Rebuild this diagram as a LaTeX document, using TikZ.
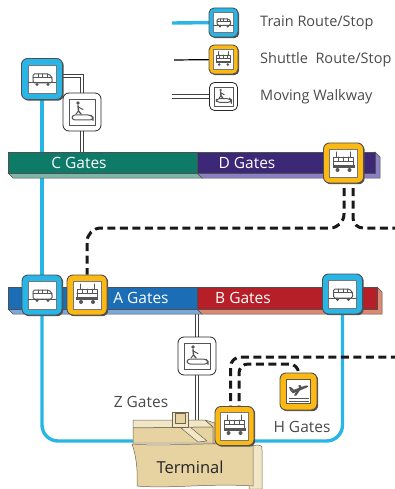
\documentclass[tikz,border=0pt]{standalone}
\usepackage{fontspec}
\setmainfont{Open Sans}
\usetikzlibrary{shadows,calc}

\definecolor{trainblue}{HTML}{29B5E6}
\definecolor{shuttleyellow}{HTML}{FDB913}
\definecolor{cgreen}{HTML}{0E7A68}
\definecolor{cgreenlt}{HTML}{7DB5A8}
\definecolor{dpurple}{HTML}{3D2878}
\definecolor{dpurplelt}{HTML}{8B80C3}
\definecolor{ablue}{HTML}{1B6EB5}
\definecolor{abluelt}{HTML}{7DA7D9}
\definecolor{bred}{HTML}{B71F28}
\definecolor{bredlt}{HTML}{D98A70}
\definecolor{edge}{HTML}{505050}
\definecolor{glyph}{HTML}{555555}
\definecolor{tan}{HTML}{E6D3A1}
\definecolor{tanlt}{HTML}{F1E6C6}
\definecolor{tanedge}{HTML}{6E6450}
\definecolor{labelgray}{HTML}{4A4A4A}

\pgfdeclarelayer{routes}
\pgfsetlayers{routes,main}

\tikzset{
  stopbox/.style={rectangle, rounded corners=6pt, minimum size=40pt, inner sep=0pt,
    fill=#1, draw=edge, line width=0.9pt,
    drop shadow={shadow xshift=1.2pt, shadow yshift=-1.2pt, fill=edge, opacity=1}},
  walkbox/.style={rectangle, rounded corners=6pt, minimum size=38pt, inner sep=0pt,
    fill=white, draw=black!85, line width=0.8pt},
  bar/.style={rectangle, inner sep=0pt, minimum height=21pt, draw=edge, line width=0.5pt, anchor=north west},
  barface/.style={draw=edge, line width=0.5pt},
  gatelabel/.style={text=white, font=\fontsize{15.5}{18}\selectfont},
  graylabel/.style={text=labelgray, font=\fontsize{15.5}{18}\selectfont},
  legendlabel/.style={text=labelgray, font=\fontsize{14.5}{17}\selectfont, anchor=west, inner xsep=0pt},
  trainline/.style={draw=trainblue, line width=3.4pt},
  shuttleroute/.style={draw=black!90, line width=3pt, dash pattern=on 8pt off 4.5pt},
  walkline/.style={line width=1pt, draw=black!75, double=white, double distance=2.8pt},
  glyphpen/.style={draw=glyph, line width=1pt, line cap=round, line join=round},
  tanpart/.style={draw=tanedge, line width=0.5pt, line join=round},
  pics/trainglyph/.style={code={
    \filldraw[fill=white, draw=glyph!80, line width=.6pt] (-14,-14) rectangle (14,14);
    \draw[glyphpen, rounded corners=1.5pt] (-9,4) -- (-9,-5) -- (7,-5) -- (10,-1.5) -- (10,4) -- cycle;
    \draw[glyphpen] (-9,-1.5) -- (10,-1.5) (-4,-5) -- (-4,-1.5) (0.5,-5) -- (0.5,-1.5) (5,-5) -- (5,-1.5);
    \draw[glyphpen] (-14,4) -- (14,4);
    \fill[glyph] (-5,5.5) circle (1.6pt) (6,5.5) circle (1.6pt);
  }},
  pics/shuttleglyph/.style={code={
    \filldraw[fill=white, draw=glyph!80, line width=.6pt] (-14,-14) rectangle (14,14);
    \draw[glyphpen] (-7,-11) -- (-7,-6) (7,-11) -- (7,-6);
    \draw[glyphpen] (-10,-6) rectangle (10,3);
    \draw[glyphpen] (-10,-2) -- (10,-2) (-5,-6) -- (-5,-2) (0,-6) -- (0,-2) (5,-6) -- (5,-2);
    \fill[glyph] (-11,2) rectangle (11,4.5);
    \fill[glyph] (-6,7) circle (2pt) (6,7) circle (2pt);
  }},
  pics/walkglyph/.style={code={
    \filldraw[fill=white, draw=glyph, line width=.6pt] (-13,-13) rectangle (13,13);
    \fill[glyph] (-4,-9) circle (1.8pt);
    \draw[glyphpen, line width=1.4pt] (-4,-6.5) -- (-3.5,-1) -- (-1,2);
    \draw[glyphpen] (-3.8,-5) -- (1,-2.5) (-3.5,-1) -- (-6,2);
    \draw[glyphpen, rounded corners=3pt] (-10,8) -- (-10,3) -- (9,3) -- (11,5.5) -- (11,8) -- cycle;
  }},
  pics/planeglyph/.style={code={
    \filldraw[fill=white, draw=glyph, line width=.6pt] (-12,-12) rectangle (12,12);
    % fuselage, nose to the upper right
    \fill[glyph] (-8,-0.5) -- (6.5,-5.8) .. controls (9.5,-6.8) and (10.5,-4.8) .. (8,-3.8)
      -- (-5.5,1.8) -- cycle;
    % tail fin
    \fill[glyph] (-8,-0.5) -- (-9.5,-4.5) -- (-7.6,-4.5) -- (-4.5,-1.7) -- cycle;
    % near wing
    \fill[glyph] (-1.5,-2) -- (-4.5,4) -- (-2.2,4) -- (3,-3.4) -- cycle;
    % far wing
    \fill[glyph] (0.5,-3) -- (0,-6.5) -- (1.8,-6.5) -- (3.5,-4) -- cycle;
    \draw[glyph, line width=.8pt] (-10,7) -- (10,7) (-10,9.5) -- (10,9.5);
  }},
}

\begin{document}
\begin{tikzpicture}[x=1pt,y=-1pt]
\useasboundingbox (0,0) rectangle (395,489);

% ---------- legend ----------
\node[stopbox=trainblue, minimum size=29pt, rounded corners=5pt] (Ltrain) at (223.5,22.5) {};
\pic[scale=0.72] at (Ltrain) {trainglyph};
\node[stopbox=shuttleyellow, minimum size=29pt, rounded corners=5pt] (Lshuttle) at (223.5,59.5) {};
\pic[scale=0.72] at (Lshuttle) {shuttleglyph};
\node[walkbox, minimum size=28pt, rounded corners=5pt] (Lwalk) at (223.5,96.5) {};
\pic[scale=0.72] at (Lwalk) {walkglyph};
\node[legendlabel] (Ltraintext) at (260,23) {Train Route/Stop};
\node[legendlabel] (Lshuttletext) at (260,60) {Shuttle\ \ Route/Stop};
\node[legendlabel] (Lwalktext) at (260,97) {Moving Walkway};
\coordinate (Lte) at (172,23);
\coordinate (Lse) at (174,60);
\coordinate (Lwe) at (172,96.5);

% ---------- concourse bars ----------
\fill[cgreenlt, barface] (8,173) -- (13,178) -- (202,178) -- (197,173) -- cycle;
\fill[dpurplelt, barface] (197,173) -- (202,178) -- (380,178) -- (380,157) -- (375,152) -- (375,173) -- cycle;
\node[bar, fill=cgreen, minimum width=189pt] (Cbar) at (8,152) {};
\node[bar, fill=dpurple, minimum width=178pt] (Dbar) at (197,152) {};
\node[gatelabel] (Clabel) at (79,163) {C Gates};
\node[gatelabel] (Dlabel) at (247,163) {D Gates};

\fill[abluelt, barface] (8,309) -- (13,314) -- (202,314) -- (197,309) -- cycle;
\fill[bredlt, barface] (197,309) -- (202,314) -- (382,314) -- (382,292) -- (377,287) -- (377,309) -- cycle;
\node[bar, fill=ablue, minimum width=189pt, minimum height=22pt] (Abar) at (8,287) {};
\node[bar, fill=bred, minimum width=180pt, minimum height=22pt] (Bbar) at (197,287) {};
\node[gatelabel] (Alabel) at (141,298) {A Gates};
\node[gatelabel] (Blabel) at (243,298) {B Gates};

% ---------- terminal building ----------
\filldraw[fill=tanlt, tanpart] (249,446) -- (258,445) .. controls (262,446) .. (262,450) -- (262,489) -- (249,489) -- cycle;
\filldraw[fill=tan, tanpart] (132,444) .. controls (170,447) and (210,441) .. (253,446) -- (253,486)
  .. controls (210,483) and (170,489) .. (137,486) .. controls (138,470) and (136,455) .. (132,444) -- cycle;
\node[text=black!85, font=\fontsize{16.5}{19}\selectfont] (Tlabel) at (190,467) {Terminal};
% upper deck
\filldraw[fill=tanlt, tanpart] (133,420) -- (205,420) -- (213,427) -- (133,428) -- cycle;
\filldraw[fill=tan, tanpart] (133,428) -- (213,427) -- (213,443) -- (133,443) -- cycle;
\filldraw[fill=tanlt, tanpart] (181,428) -- (190,427) -- (207,441) -- (198,442) -- cycle;
\filldraw[fill=tan, tanpart] (205,420) -- (215,423) -- (215,444) -- (213,443) -- (213,427) -- cycle;
% kiosk
\filldraw[fill=tanlt, tanpart] (172,412) rectangle (188,427);
\filldraw[fill=tan, tanpart] (175,413.5) rectangle (185.5,423.5);
\coordinate (deck) at (197,421);

% ---------- stops ----------
\node[stopbox=trainblue, minimum size=41pt] (tC) at (42,79) {};
\pic at (tC) {trainglyph};
\node[walkbox] (wC) at (82,112) {};
\pic at (wC) {walkglyph};
\node[stopbox=shuttleyellow] (sD) at (343.5,163) {};
\pic at (sD) {shuttleglyph};
\node[stopbox=trainblue] (tA) at (42,295) {};
\pic at (tA) {trainglyph};
\node[stopbox=shuttleyellow] (sA) at (87,295) {};
\pic at (sA) {shuttleglyph};
\node[stopbox=trainblue] (tB) at (342.5,294) {};
\pic at (tB) {trainglyph};
\node[walkbox] (wA) at (197,356) {};
\pic at (wA) {walkglyph};
\node[stopbox=shuttleyellow, minimum size=39pt] (sT) at (234.5,426) {};
\pic at (sT) {shuttleglyph};
\node[stopbox=shuttleyellow, minimum size=37pt] (hG) at (298.5,391.5) {};
\pic at (hG) {planeglyph};

\node[graylabel] (Zlabel) at (141,402) {Z Gates};
\node[graylabel] (Hlabel) at (302,427) {H Gates};

% ---------- routes (drawn underneath) ----------
\begin{pgfonlayer}{routes}
  % legend samples
  \draw[trainline] (Lte) -- (Ltrain.center);
  \draw[draw=black, line width=1.2pt] (Lse) -- (Lshuttle.center);
  \draw[walkline] (Lwe) -- (Lwalk.center);
  % train loop
  \draw[trainline] (tC.center) -- (tA.center);
  \draw[trainline, rounded corners=16pt] (tA.center) |- (tB.center |- 0,441) -- (tB.center);
  % moving walkways
  \draw[walkline] ([yshift=3pt]tC.center) -| (wC.center);
  \draw[walkline] (wC.center) -- (wC.center |- Cbar.north);
  \draw[walkline] (wA.center |- Abar.south) -- (wA.center) -- (deck);
  % shuttle routes
  \coordinate (eastD) at (395,228);
  \coordinate (eastT) at (395,357);
  \draw[shuttleroute, rounded corners=14pt] ([xshift=0.5pt]sD.center) |- (sA.center |- 0,228) -- (sA.north);
  \draw[shuttleroute, rounded corners=10pt] ([xshift=9.5pt]sD.center) |- (eastD);
  \draw[shuttleroute, rounded corners=10pt] ([xshift=-4pt]sT.center) |- (eastT);
  \draw[shuttleroute, rounded corners=9pt] ([xshift=4.5pt]sT.center) |- (hG.north |- 0,364) -- (hG.north);
\end{pgfonlayer}
\end{tikzpicture}
\end{document}
